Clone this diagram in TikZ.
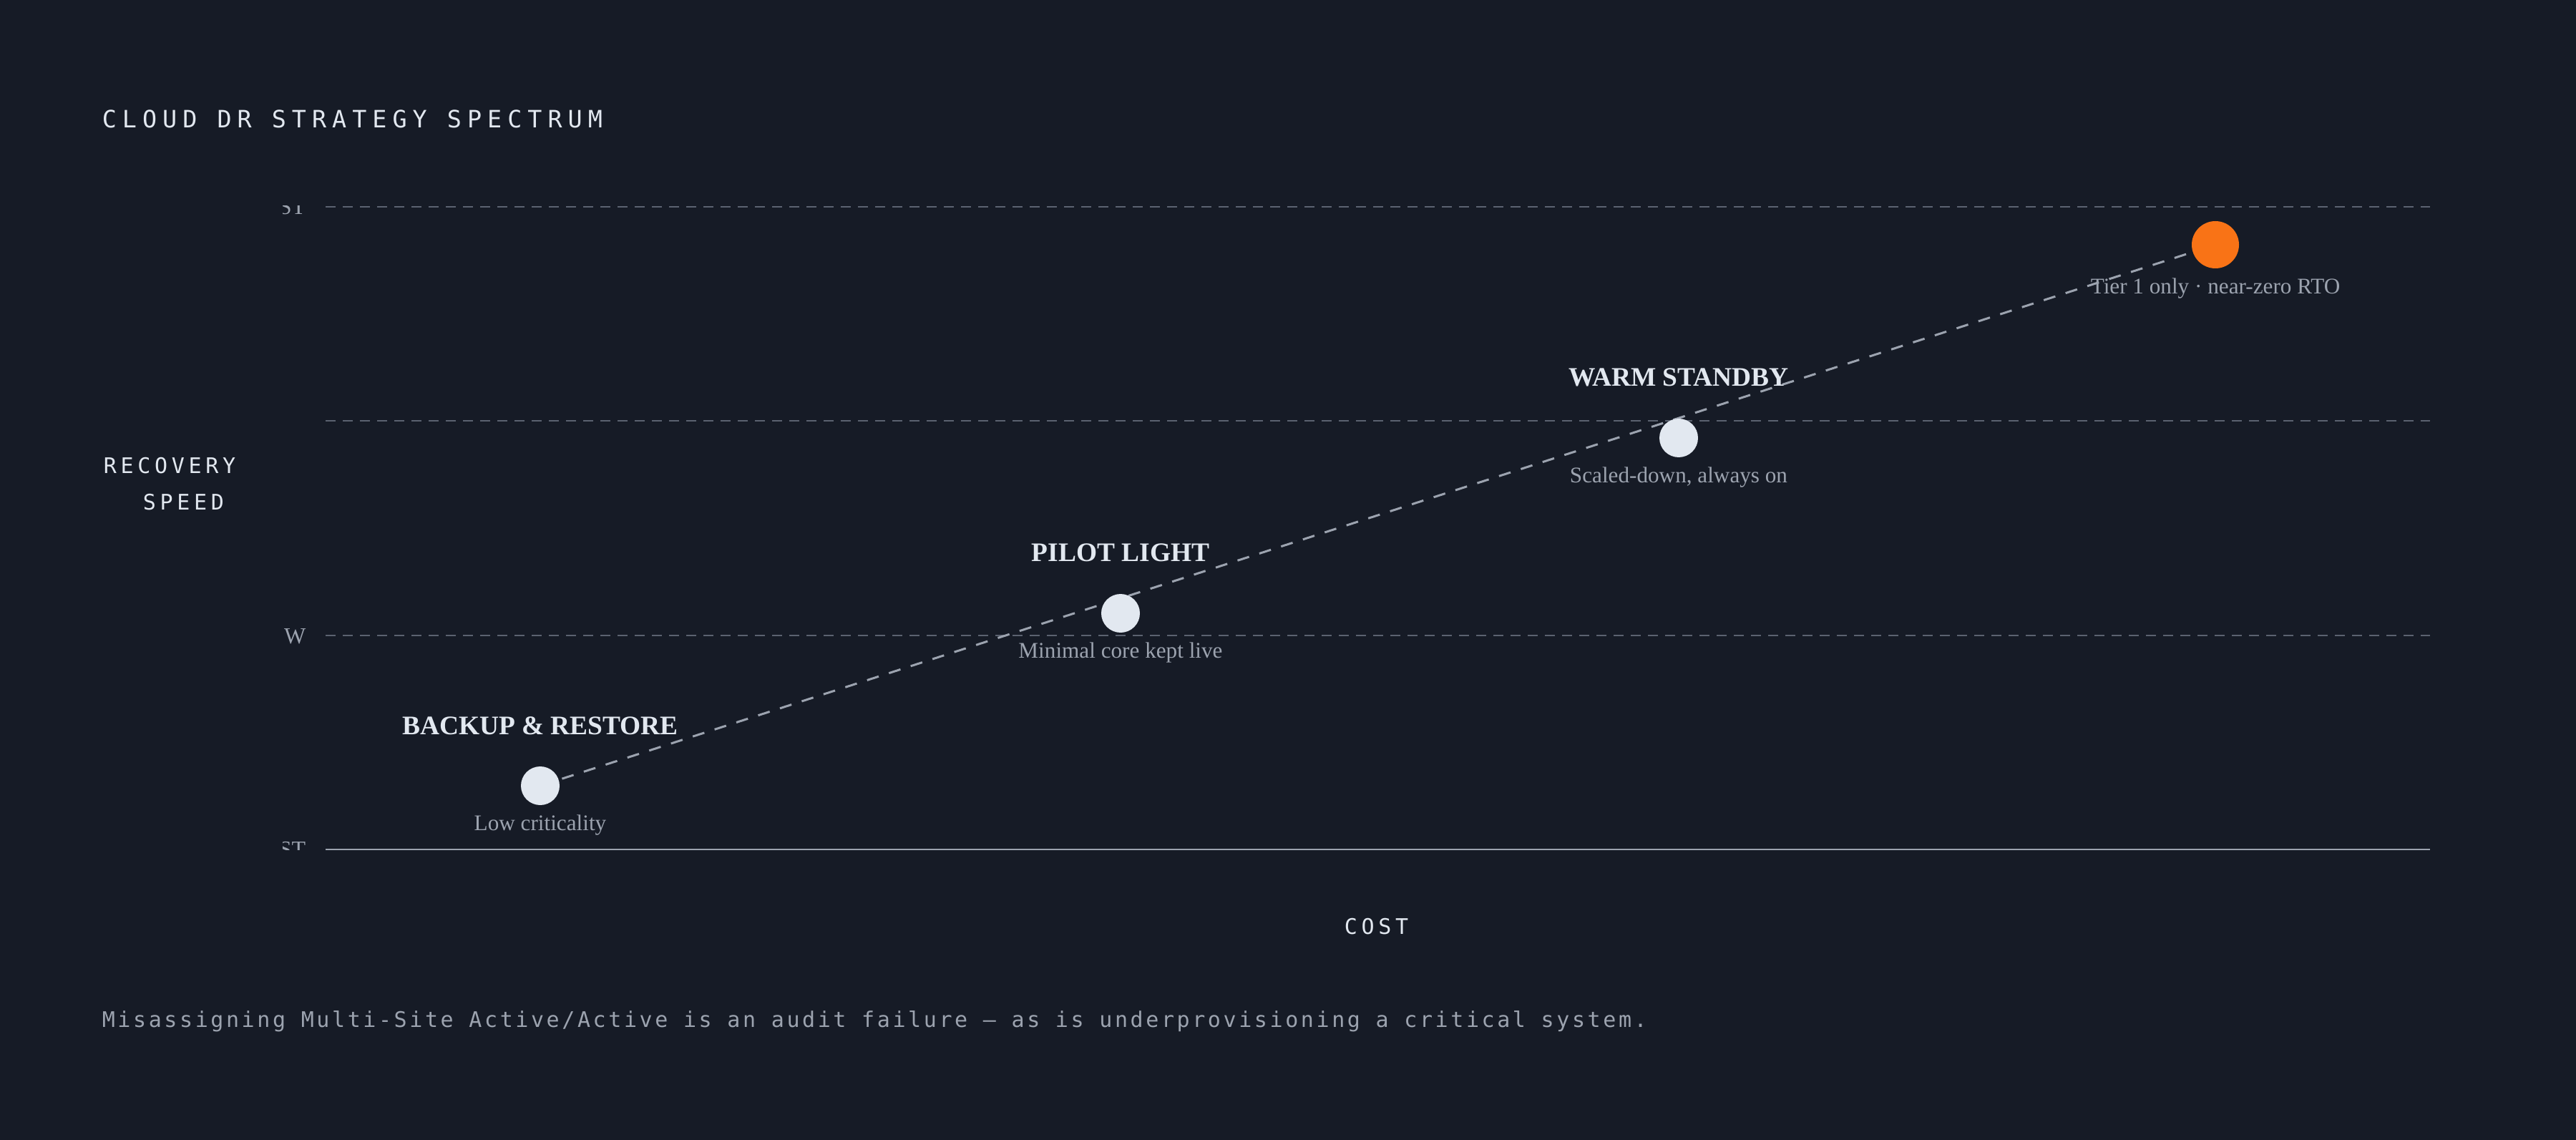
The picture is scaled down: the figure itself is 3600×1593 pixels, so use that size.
\documentclass[tikz,border=0pt]{standalone}
\usepackage{fontspec}
\setmainfont{Liberation Serif}
\newfontfamily\titlefont[LetterSpace=24]{DejaVu Sans Mono}
\newfontfamily\axisfont[LetterSpace=19]{DejaVu Sans Mono}
\newfontfamily\notefont[LetterSpace=12]{DejaVu Sans Mono}
\definecolor{bg}{HTML}{161B26}
\definecolor{ink}{HTML}{E2E8F0}
\definecolor{muted}{HTML}{9CA3AF}
\definecolor{gridc}{HTML}{5B6270}
\definecolor{accent}{HTML}{F97316}
\tikzset{
  gridline/.style={draw=gridc, line width=0.5pt, dash pattern=on 3.5pt off 2.5pt},
  axisline/.style={draw=muted, line width=0.5pt},
  trend/.style={draw=muted, line width=0.75pt, dash pattern=on 4.25pt off 3.75pt},
  dot/.style={circle, fill=ink, minimum size=13.5pt, inner sep=0pt},
  hotdot/.style={circle, fill=accent, minimum size=16.5pt, inner sep=0pt},
  stratname/.style={anchor=base, inner sep=0pt, text=ink, font=\fontsize{9.35pt}{10pt}\selectfont\bfseries},
  stratnote/.style={anchor=base, inner sep=0pt, text=muted, font=\fontsize{7.8pt}{9pt}\selectfont},
  ticklbl/.style={anchor=east, inner sep=0pt, text=muted, font=\fontsize{8pt}{9pt}\selectfont},
  axislbl/.style={anchor=base west, inner sep=0pt, text=ink, font=\fontsize{7.5pt}{9pt}\selectfont\axisfont},
}
\begin{document}
\begin{tikzpicture}[x=0.25pt,y=-0.25pt]
\useasboundingbox (0,0) rectangle (3600,1593);
\fill[bg] (0,0) rectangle (3600,1593);

% title
\node[anchor=base west, inner sep=0pt, text=ink, font=\fontsize{8.35pt}{10pt}\selectfont\titlefont] (title) at (142,179) {CLOUD DR STRATEGY SPECTRUM};

% grid
\draw[gridline] (455,289) -- (3396,289);
\draw[gridline] (455,588) -- (3396,588);
\draw[gridline] (455,888) -- (3396,888);
\draw[axisline] (455,1187) -- (3396,1187);

% tick labels (clipped)
\begin{scope}
\clip (395,288) rectangle (460,1187);
\node[ticklbl] (tTop) at (428,289) {ST};
\node[ticklbl] (tMid) at (428,889) {W};
\node[ticklbl] (tBot) at (428,1187) {ST};
\end{scope}

% axis labels
\node[axislbl] (yl1) at (144,662) {RECOVERY};
\node[axislbl] (yl2) at (199,713) {SPEED};
\node[axislbl] (xl) at (1878,1305) {COST};

% trend line
\coordinate (pB) at (755,1098);
\coordinate (pP) at (1566,857);
\coordinate (pW) at (2346,612);
\coordinate (pM) at (3096,342);
\draw[trend] (pB) -- (pM);

% dots
\node[dot] (backup) at (pB) {};
\node[dot] (pilot) at (pP) {};
\node[dot] (warm) at (pW) {};
\node[hotdot] (multi) at (pM) {};

% labels
\node[stratname] (backupName) at (755,1026) {BACKUP \& RESTORE};
\node[stratnote] (backupNote) at (755,1160) {Low criticality};
\node[stratname] (pilotName) at (1566,785) {PILOT LIGHT};
\node[stratnote] (pilotNote) at (1566,919) {Minimal core kept live};
\node[stratname] (warmName) at (2346,540) {WARM STANDBY};
\node[stratnote] (warmNote) at (2346,674) {Scaled-down, always on};
\node[stratnote] (multiNote) at (3096,411) {Tier 1 only · near-zero RTO};

% footnote
\node[anchor=base west, inner sep=0pt, text=muted, font=\fontsize{7.5pt}{9pt}\selectfont\notefont] (note) at (142,1435) {Misassigning Multi-Site Active/Active is an audit failure — as is underprovisioning a critical system.};
\end{tikzpicture}
\end{document}
